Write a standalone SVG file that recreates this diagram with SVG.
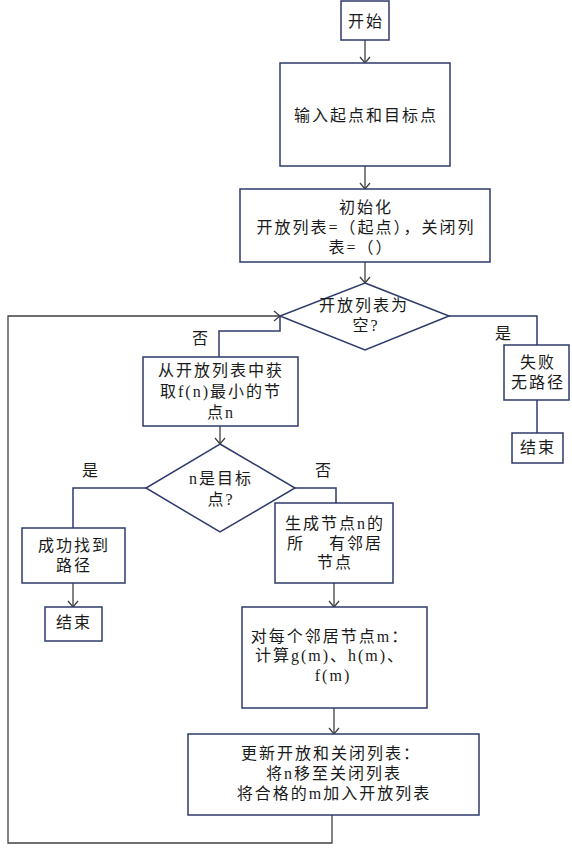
<svg xmlns="http://www.w3.org/2000/svg" width="572" height="852" viewBox="0 0 572 852">
<style>
.n{fill:#fff;stroke:#2E3A6B;stroke-width:1.5}
.t{font-family:"Liberation Serif","Noto Sans CJK SC",serif;font-size:16px;fill:#1a1a1a;text-anchor:middle;letter-spacing:2px}
.a{fill:none;stroke:#404040;stroke-width:1.3}
.b{fill:none;stroke:#2E3A6B;stroke-width:1.5}
</style>
<defs>
<marker id="arr" viewBox="-8 -6 9 12" refX="0" refY="0" markerWidth="9" markerHeight="12" markerUnits="userSpaceOnUse" orient="auto">
<path d="M-6,-5 L0,0 L-6,5" fill="none" stroke="#404040" stroke-width="1.3"/>
</marker>
</defs>
<rect width="572" height="852" fill="#fff"/>
<g id="connectors">
<path class="a" d="M365,40 V63" marker-end="url(#arr)"/>
<path class="a" d="M365,166 V189" marker-end="url(#arr)"/>
<path class="a" d="M365,262 V283" marker-end="url(#arr)"/>
<path class="b" d="M280,316 V331 H219 V357"/>
<path class="b" d="M449,316 H537 V345"/>
<path class="b" d="M537,400 V433"/>
<path class="a" d="M220,426 V444" marker-end="url(#arr)"/>
<path class="b" d="M146,488 H73 V528"/>
<path class="b" d="M295,488 H336 V503"/>
<path class="a" d="M73,583 V607" marker-end="url(#arr)"/>
<path class="a" d="M334,583 V607" marker-end="url(#arr)"/>
<path class="a" d="M334,708 V734" marker-end="url(#arr)"/>
<path class="a" d="M332,815 V843 H8 V316 H280" marker-end="url(#arr)"/>
<text class="t" x="201" y="344">否</text>
<text class="t" x="504" y="339">是</text>
<text class="t" x="91" y="476">是</text>
<text class="t" x="324" y="476">否</text>
</g>
<g id="start">
<rect class="n" x="341" y="1" width="48" height="39"/>
<text class="t" x="366" y="27">开始</text>
</g>
<g id="input">
<rect class="n" x="280" y="63" width="170" height="103"/>
<text class="t" x="366" y="121">输入起点和目标点</text>
</g>
<g id="init">
<rect class="n" x="240" y="189" width="250" height="73"/>
<text class="t" x="366" y="213">初始化</text>
<text class="t" x="366" y="233">开放列表=（起点），关闭列</text>
<text class="t" x="361" y="253">表=（）</text>
</g>
<g id="check-open">
<polygon class="n" points="365,283 449,316 365,350 280,316"/>
<text class="t" x="364" y="311">开放列表为</text>
<text class="t" x="366" y="331">空?</text>
</g>
<g id="get-min">
<rect class="n" x="143" y="357" width="155" height="69"/>
<text class="t" x="221" y="376">从开放列表中获</text>
<text class="t" x="221" y="397">取f(n)最小的节</text>
<text class="t" x="221" y="418">点n</text>
</g>
<g id="fail">
<rect class="n" x="504" y="345" width="65" height="55"/>
<text class="t" x="538" y="368">失败</text>
<text class="t" x="538" y="388">无路径</text>
</g>
<g id="end-right">
<rect class="n" x="512" y="433" width="51" height="30"/>
<text class="t" x="538" y="453">结束</text>
</g>
<g id="is-goal">
<polygon class="n" points="220,444 295,488 220,532 146,488"/>
<text class="t" x="221" y="484">n是目标</text>
<text class="t" x="221" y="505">点?</text>
</g>
<g id="success">
<rect class="n" x="22" y="528" width="103" height="55"/>
<text class="t" x="74" y="551">成功找到</text>
<text class="t" x="74" y="571">路径</text>
</g>
<g id="end-left">
<rect class="n" x="45" y="607" width="57" height="34"/>
<text class="t" x="74" y="628">结束</text>
</g>
<g id="gen">
<rect class="n" x="275" y="503" width="118" height="80"/>
<text class="t" x="335" y="529">生成节点n的</text>
<text class="t" x="335" y="549" xml:space="preserve" style="white-space:pre">所    有邻居</text>
<text class="t" x="335" y="568">节点</text>
</g>
<g id="compute">
<rect class="n" x="242" y="607" width="185" height="101"/>
<text class="t" x="330" y="642">对每个邻居节点m：</text>
<text class="t" x="330" y="661">计算g(m)、h(m)、</text>
<text class="t" x="333" y="681">f(m)</text>
</g>
<g id="update">
<rect class="n" x="188" y="734" width="291" height="81"/>
<text class="t" x="331" y="759">更新开放和关闭列表：</text>
<text class="t" x="334" y="779">将n移至关闭列表</text>
<text class="t" x="334" y="799">将合格的m加入开放列表</text>
</g>
</svg>
